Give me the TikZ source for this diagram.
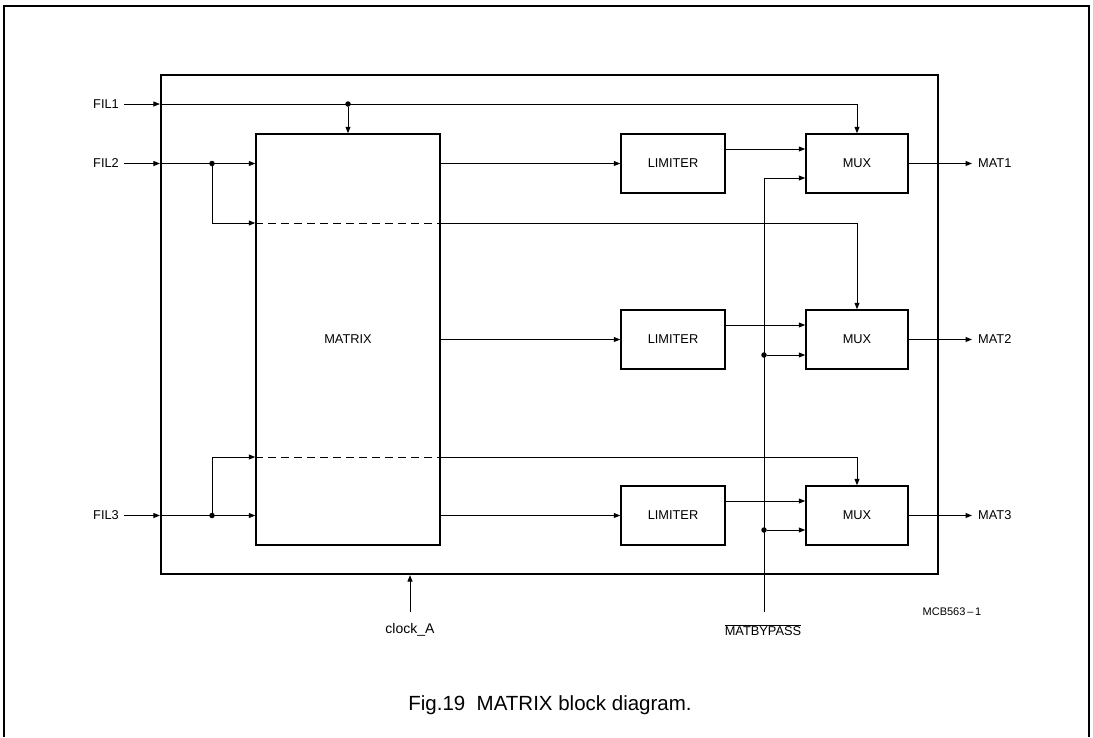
\documentclass[tikz,border=0pt]{standalone}
\usepackage{fontspec}
\setmainfont{Liberation Sans}
\usetikzlibrary{arrows.meta,calc}
\begin{document}
\begin{tikzpicture}[x=1pt,y=-1pt,
  lbl/.style={font=\fontsize{12.8}{14}\selectfont,inner sep=0pt},
  blk/.style={draw,line width=1.5pt,minimum height=59pt,inner sep=0pt,font=\fontsize{12.8}{14}\selectfont},
  limbox/.style={blk,minimum width=104pt},
  muxbox/.style={blk,minimum width=102pt},
  ln/.style={line width=1pt},
  arr/.style={ln,-{Triangle[length=6.5pt,width=5pt]}},
  dashln/.style={ln,dash pattern=on 8pt off 5pt},
  jdot/.style={circle,fill,inner sep=0pt,minimum size=5.5pt},
]
\useasboundingbox (0,0) rectangle (1093,737);
% outer frame
\draw[line width=1.5pt] (4,737) -- (4,6) -- (1089,6) -- (1089,737);
% chip boundary
\node[draw,line width=2.2pt,minimum width=777pt,minimum height=499pt,inner sep=0pt] (chip) at (549.5,324.5) {};
% blocks
\node[draw,line width=1.5pt,minimum width=184pt,minimum height=411pt,inner sep=0pt,font=\fontsize{12.8}{14}\selectfont] (mtx) at (348,339.5) {MATRIX};
\node[limbox] (lim1) at (673,163.5) {LIMITER};
\node[limbox] (lim2) at (673,339.5) {LIMITER};
\node[limbox] (lim3) at (673,515.5) {LIMITER};
\node[muxbox] (mux1) at (857,163.5) {MUX};
\node[muxbox] (mux2) at (857,339.5) {MUX};
\node[muxbox] (mux3) at (857,515.5) {MUX};
% input labels
\node[lbl,anchor=east,inner xsep=5pt] (fil1) at (124,104) {FIL1};
\node[lbl,anchor=east,inner xsep=5pt] (fil2) at (124,163.5) {FIL2};
\node[lbl,anchor=east,inner xsep=5pt] (fil3) at (124,515.5) {FIL3};
% FIL1
\draw[arr] (fil1.east) -- (fil1 -| chip.west);
\draw[arr] (fil1 -| chip.west) -| (mux1.north);
\node[jdot] (d1) at (fil1 -| mtx.north) {};
\draw[arr] (d1) -- (mtx.north);
% FIL2
\draw[arr] (fil2.east) -- (fil2 -| chip.west);
\draw[arr] (fil2 -| chip.west) -- (fil2 -| mtx.west);
\node[jdot] (d2) at (212,163.5) {};
\coordinate (b2) at (212,223);
\draw[arr] (d2) |- (b2 -| mtx.west);
\draw[dashln] (b2 -| mtx.west) -- (b2 -| mtx.east);
\draw[arr] (b2 -| mtx.east) -| (mux2.north);
% FIL3
\draw[arr] (fil3.east) -- (fil3 -| chip.west);
\draw[arr] (fil3 -| chip.west) -- (fil3 -| mtx.west);
\node[jdot] (d3) at (212,515.5) {};
\coordinate (b3) at (212,457);
\draw[arr] (d3) |- (b3 -| mtx.west);
\draw[dashln] (b3 -| mtx.west) -- (b3 -| mtx.east);
\draw[arr] (b3 -| mtx.east) -| (mux3.north);
% matrix to limiters
\draw[arr] (mtx.east |- lim1) -- (lim1.west);
\draw[arr] (mtx.east |- lim2) -- (lim2.west);
\draw[arr] (mtx.east |- lim3) -- (lim3.west);
% limiters to mux
\draw[arr] ([yshift=14.5pt]lim1.east) -- ([yshift=14.5pt]mux1.west);
\draw[arr] ([yshift=14.5pt]lim2.east) -- ([yshift=14.5pt]mux2.west);
\draw[arr] ([yshift=14.5pt]lim3.east) -- ([yshift=14.5pt]mux3.west);
% bypass
\node[lbl] (byp) at (763,630) {$\overline{\mbox{MATBYPASS}}$};
\coordinate (bt) at (764,612);
\coordinate (m1b) at ([yshift=-14.5pt]mux1.west);
\coordinate (m2b) at ([yshift=-15.5pt]mux2.west);
\coordinate (m3b) at ([yshift=-14.5pt]mux3.west);
\draw[arr] (bt) |- (m1b);
\node[jdot] (d5) at (bt |- m2b) {};
\node[jdot] (d6) at (bt |- m3b) {};
\draw[arr] (d5) -- (m2b);
\draw[arr] (d6) -- (m3b);
% outputs
\node[lbl,anchor=west,inner xsep=6pt] (mat1) at (972,163.5) {MAT1};
\node[lbl,anchor=west,inner xsep=6pt] (mat2) at (972,339.5) {MAT2};
\node[lbl,anchor=west,inner xsep=6pt] (mat3) at (972,515.5) {MAT3};
\draw[arr] (mux1.east) -- (mat1.west);
\draw[arr] (mux2.east) -- (mat2.west);
\draw[arr] (mux3.east) -- (mat3.west);
% clock
\node[lbl,font=\fontsize{14}{16}\selectfont] (clk) at (410,630) {clock\_A};
\coordinate (ck) at (410,612);
\draw[arr] (ck) -- (ck |- chip.south);
% ref and caption
\node[font=\fontsize{11}{13}\selectfont,inner sep=0pt] (ref) at (952,612) {MCB563\,--\,1};
\node[font=\fontsize{20.5}{24}\selectfont,inner sep=0pt] (cap) at (550,705) {Fig.19\ \ MATRIX block diagram.};
\end{tikzpicture}
\end{document}
